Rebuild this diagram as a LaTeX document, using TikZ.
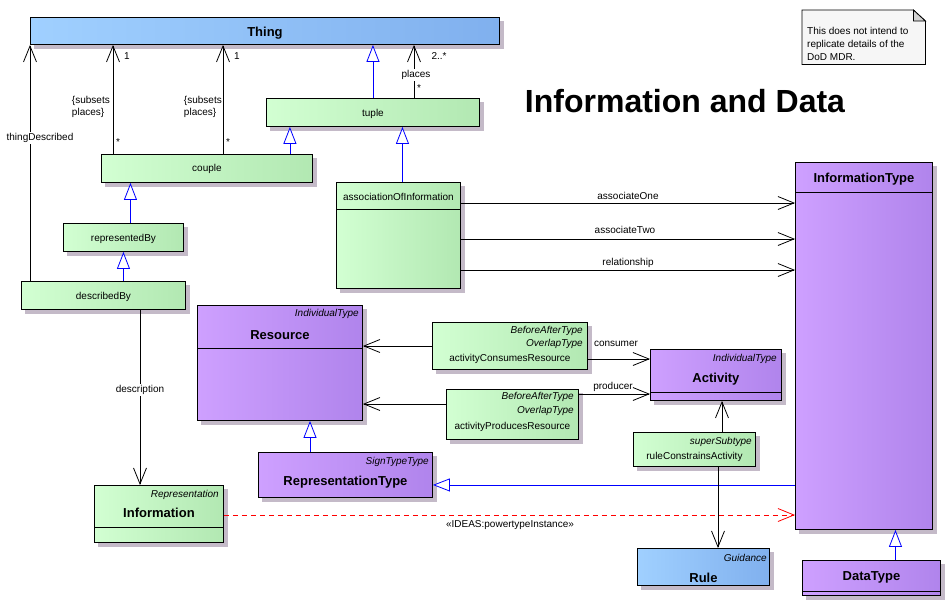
\documentclass[tikz,border=0pt]{standalone}
\usepackage{fontspec}
\setmainfont{Liberation Sans}
\usetikzlibrary{arrows.meta, positioning, backgrounds}

\definecolor{greenL}{RGB}{210,255,210}
\definecolor{greenR}{RGB}{178,232,178}
\definecolor{purpleL}{RGB}{206,160,255}
\definecolor{purpleR}{RGB}{176,132,236}
\definecolor{blueL}{RGB}{160,208,255}
\definecolor{blueR}{RGB}{128,176,238}
\definecolor{shadowgray}{RGB}{196,186,200}
\definecolor{genblue}{RGB}{0,0,255}
\definecolor{notebg}{RGB}{246,246,246}

\tikzset{
    umlbox/.style={draw, line width=0.9pt, inner sep=0pt, anchor=north west},
    greenbox/.style={umlbox, left color=greenL, right color=greenR},
    purplebox/.style={umlbox, left color=purpleL, right color=purpleR},
    bluebox/.style={umlbox, left color=blueL, right color=blueR},
    ttl/.style={font=\fontsize{13}{15}\selectfont\bfseries, inner sep=0pt},
    stereo/.style={font=\fontsize{10}{12}\selectfont\itshape, inner sep=0pt, anchor=east},
    txt/.style={font=\fontsize{10}{12}\selectfont, inner sep=0pt},
    lbl/.style={txt, fill=white, inner sep=1pt},
    sep/.style={line width=0.9pt},
    assoc/.style={line width=0.8pt, -{Straight Barb[length=16pt, width=13pt]}},
    gen/.style={draw=genblue, line width=0.8pt, -{Triangle[fill=white, length=17pt, width=13pt]}},
    inst/.style={draw=red, line width=0.8pt, dash pattern=on 5pt off 4pt, -{Straight Barb[length=16pt, width=13pt]}},
}

\begin{document}
\begin{tikzpicture}[x=1pt, y=-1pt]
            \useasboundingbox (0,0) rectangle (948,606);

            % Title and note
            \node[font=\fontsize{32}{36}\selectfont\bfseries, inner sep=0pt] (title) at (685,101) {Information and Data};
            \node[inner sep=0pt, minimum width=123pt, minimum height=54pt, anchor=north west] (note) at (802,10) {};
            \draw[line width=0.8pt, fill=notebg] (note.north west) -- ([xshift=-12pt]note.north east) -- ([yshift=-11pt]note.north east) -- (note.south east) -- (note.south west) -- cycle;
            \draw[line width=0.8pt, fill=gray!35] ([xshift=-12pt]note.north east) -- ([xshift=-12pt, yshift=-11pt]note.north east) -- ([yshift=-11pt]note.north east) -- cycle;
            \node[txt, align=left, anchor=west, font=\fontsize{10}{13}\selectfont] (notetext) at (807,44) {This does not intend to\\replicate details of the\\DoD MDR.};

            % Upper classes
            \node[bluebox, minimum width=469pt, minimum height=27pt] (thing) at (30,17) {};
            \node[ttl] (thing-t) at ([yshift=-2pt]thing.center) {Thing};
            \node[greenbox, minimum width=213pt, minimum height=28pt] (tuple) at (266,98) {};
            \node[txt] (tuple-t) at ([yshift=-1pt]tuple.center) {tuple};
            \node[greenbox, minimum width=211pt, minimum height=28pt] (couple) at (101,154) {};
            \node[txt] (couple-t) at (couple.center) {couple};
            \node[greenbox, minimum width=120pt, minimum height=28pt] (representedBy) at (63,223) {};
            \node[txt] (representedBy-t) at ([yshift=-1pt]representedBy.center) {representedBy};
            \node[greenbox, minimum width=164pt, minimum height=28pt] (describedBy) at (21,281) {};
            \node[txt] (describedBy-t) at ([yshift=-1pt]describedBy.center) {describedBy};
            \node[greenbox, minimum width=124pt, minimum height=106pt] (aoi) at (336,182) {};
            \node[txt] (aoi-t) at ([yshift=-15pt]aoi.north) {associationOfInformation};
            \draw[sep] ([yshift=-27pt]aoi.north west) -- ([yshift=-27pt]aoi.north east);

            % Resource and Activity
            \node[purplebox, minimum width=165pt, minimum height=115pt] (resource) at (197,305) {};
            \node[stereo] (resource-s) at ([xshift=-4pt, yshift=-9pt]resource.north east) {IndividualType};
            \node[ttl] (resource-t) at ([yshift=-30pt]resource.north) {Resource};
            \draw[sep] ([yshift=-43pt]resource.north west) -- ([yshift=-43pt]resource.north east);
            \node[greenbox, minimum width=155pt, minimum height=47pt] (consumes) at (432,322) {};
            \node[stereo] (consumes-s1) at ([xshift=-5pt, yshift=-9pt]consumes.north east) {BeforeAfterType};
            \node[stereo] (consumes-s2) at ([xshift=-5pt, yshift=-22pt]consumes.north east) {OverlapType};
            \node[txt] (consumes-t) at ([yshift=-37pt]consumes.north) {activityConsumesResource};
            \node[greenbox, minimum width=132pt, minimum height=50pt] (produces) at (446,389) {};
            \node[stereo] (produces-s1) at ([xshift=-5pt, yshift=-8pt]produces.north east) {BeforeAfterType};
            \node[stereo] (produces-s2) at ([xshift=-5pt, yshift=-22pt]produces.north east) {OverlapType};
            \node[txt] (produces-t) at ([yshift=-38pt]produces.north) {activityProducesResource};
            \node[purplebox, minimum width=131pt, minimum height=51pt] (activity) at (650,349) {};
            \node[stereo] (activity-s) at ([xshift=-5pt, yshift=-10pt]activity.north east) {IndividualType};
            \node[ttl] (activity-t) at ([yshift=-30pt]activity.north) {Activity};
            \draw[sep] ([yshift=-43pt]activity.north west) -- ([yshift=-43pt]activity.north east);
            \node[greenbox, minimum width=122pt, minimum height=34pt] (ruleCA) at (633,432) {};
            \node[stereo] (ruleCA-s) at ([xshift=-4pt, yshift=-10pt]ruleCA.north east) {superSubtype};
            \node[txt] (ruleCA-t) at ([yshift=-25pt]ruleCA.north) {ruleConstrainsActivity};

            % Lower classes
            \node[purplebox, minimum width=174pt, minimum height=45pt] (reprType) at (258,452) {};
            \node[stereo] (reprType-s) at ([xshift=-4pt, yshift=-10pt]reprType.north east) {SignTypeType};
            \node[ttl] (reprType-t) at ([yshift=-30pt]reprType.north) {RepresentationType};
            \node[greenbox, minimum width=129pt, minimum height=57pt] (information) at (94,485) {};
            \node[stereo] (information-s) at ([xshift=-5pt, yshift=-10pt]information.north east) {Representation};
            \node[ttl] (information-t) at ([yshift=-28pt]information.north) {Information};
            \draw[sep] ([yshift=-42pt]information.north west) -- ([yshift=-42pt]information.north east);
            \node[bluebox, minimum width=132pt, minimum height=37pt] (rule) at (637,548) {};
            \node[stereo] (rule-s) at ([xshift=-3pt, yshift=-10pt]rule.north east) {Guidance};
            \node[ttl] (rule-t) at ([yshift=-30pt]rule.north) {Rule};
            \node[purplebox, minimum width=137pt, minimum height=367pt] (infoType) at (795,162) {};
            \node[ttl] (infoType-t) at ([yshift=-17pt]infoType.north) {InformationType};
            \draw[sep] ([yshift=-30pt]infoType.north west) -- ([yshift=-30pt]infoType.north east);
            \node[purplebox, minimum width=138pt, minimum height=35pt] (dataType) at (802,560) {};
            \node[ttl] (dataType-t) at ([yshift=-17pt]dataType.north) {DataType};
            \draw[sep] ([yshift=-31pt]dataType.north west) -- ([yshift=-31pt]dataType.north east);

            % Shadows
            \begin{scope}[on background layer]
                \foreach \n in {thing, tuple, couple, representedBy, describedBy, aoi, resource, consumes, produces, activity, ruleCA, reprType, information, rule, infoType, dataType}
                    \fill[shadowgray] ([xshift=4pt, yshift=-4pt]\n.south west) rectangle ([xshift=4pt, yshift=-4pt]\n.north east);
            \end{scope}

            % Generalizations
            \coordinate (cpl-g) at ([xshift=-23pt]couple.north east);
            \coordinate (aoi-g) at ([xshift=4pt]aoi.north);
            \coordinate (rep-g) at ([xshift=7pt]representedBy.north);
            \coordinate (rt-g) at ([xshift=52pt]reprType.north west);
            \coordinate (it-g) at ([yshift=-10pt]reprType.east);
            \coordinate (dt-g) at ([xshift=24pt]dataType.north);
            \draw[gen] (tuple.north) -- (tuple.north |- thing.south);
            \draw[gen] (cpl-g) -- (cpl-g |- tuple.south);
            \draw[gen] (aoi-g) -- (aoi-g |- tuple.south);
            \draw[gen] (rep-g) -- (rep-g |- couple.south);
            \draw[gen] (describedBy.north -| representedBy.south) -- (representedBy.south);
            \draw[gen] (rt-g) -- (rt-g |- resource.south);
            \draw[gen] (it-g -| infoType.west) -- (it-g);
            \draw[gen] (dt-g) -- (dt-g |- infoType.south);

            % Associations to Thing
            \coordinate (td) at ([xshift=9pt]describedBy.north west);
            \coordinate (sp1) at ([xshift=12pt]couple.north west);
            \coordinate (sp2) at ([xshift=122pt]couple.north west);
            \coordinate (pl) at ([xshift=148pt]tuple.north west);
            \draw[assoc] (td) -- (td |- thing.south);
            \draw[assoc] (sp1) -- (sp1 |- thing.south);
            \draw[assoc] (sp2) -- (sp2 |- thing.south);
            \draw[assoc] (pl) -- (pl |- thing.south);
            \node[lbl] (td-l) at (40,138) {thingDescribed};
            \node[txt] (sp1-m) at (127,56) {1};
            \node[lbl, anchor=east, align=left] (sp1-l) at (111,107) {\{subsets\\places\}};
            \node[txt] (sp1-s) at (118,142) {*};
            \node[txt] (sp2-m) at (237,56) {1};
            \node[lbl, anchor=east, align=left] (sp2-l) at (223,107) {\{subsets\\places\}};
            \node[txt] (sp2-s) at (228,142) {*};
            \node[txt] (pl-m) at (439,56) {2..*};
            \node[lbl] (pl-l) at (416,75) {places};
            \node[txt] (pl-s) at (419,88) {*};

            % Other associations
            \coordinate (ds) at ([xshift=119pt]describedBy.south west);
            \coordinate (a1) at ([yshift=-21pt]aoi.north east);
            \coordinate (a2) at ([yshift=-57pt]aoi.north east);
            \coordinate (a3) at ([yshift=-88pt]aoi.north east);
            \coordinate (cr) at ([yshift=-24pt]consumes.north west);
            \coordinate (ca) at ([yshift=-37pt]consumes.north east);
            \coordinate (pr) at ([yshift=-15pt]produces.north west);
            \coordinate (pa) at ([yshift=-5pt]produces.north east);
            \coordinate (ra) at ([xshift=89pt]ruleCA.north west);
            \coordinate (rr) at ([xshift=85pt]ruleCA.south west);
            \coordinate (pi) at ([yshift=-30pt]information.north east);
            \draw[assoc] (ds) -- (ds |- information.north);
            \draw[assoc] (a1) -- (a1 -| infoType.west);
            \draw[assoc] (a2) -- (a2 -| infoType.west);
            \draw[assoc] (a3) -- (a3 -| infoType.west);
            \draw[assoc] (cr) -- (cr -| resource.east);
            \draw[assoc] (ca) -- (ca -| activity.west);
            \draw[assoc] (pr) -- (pr -| resource.east);
            \draw[assoc] (pa) -- (pa -| activity.west);
            \draw[assoc] (ra) -- (ra |- activity.south);
            \draw[assoc] (rr) -- (rr |- rule.north);
            \draw[inst] (pi) -- (pi -| infoType.west);
            \node[lbl] (ds-l) at (140,390) {description};
            \node[txt] (a1-l) at (628,196) {associateOne};
            \node[txt] (a2-l) at (625,230) {associateTwo};
            \node[txt] (a3-l) at (628,263) {relationship};
            \node[txt] (ca-l) at (616,344) {consumer};
            \node[txt] (pa-l) at (613,387) {producer};
            \node[txt] (pi-l) at (510,525) {«IDEAS:powertypeInstance»};

\end{tikzpicture}
\end{document}
